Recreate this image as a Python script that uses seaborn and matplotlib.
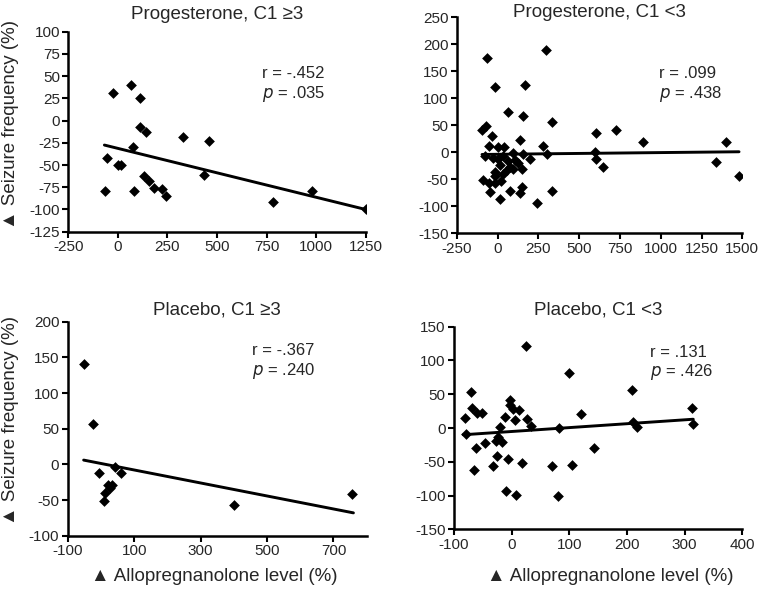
import numpy as np
import pandas as pd
import matplotlib
matplotlib.use("Agg")
import matplotlib.pyplot as plt
import seaborn as sns

# Progesterone, C1 >=3
p1_x = [-65, -26, -53, 0, 14, 66, 75, 80, 112, 112, 140, 130, 157, 180, 224, 243,
        328, 461, 433, 781, 981, 1250]
p1_y = [-79, 31, -42, -50, -50, 40, -30, -79, 26, -7, -13, -62, -68, -76, -77, -85,
        -19, -23, -61, -92, -79, -100]
p1_fit_x = [-68, 1250]
p1_fit_y = [-27.5, -100]

# Progesterone, C1 <3
p2_x = [-64, -15, 295, 171, 67, 154, 332, -93, -70, -36, -54, 5, 38, 138, 279, 301,
        604, 724, 890, 597, 604, 644, 1339, 1400, 1480,
        -89, -54, -44, -15, 15, 22, 77, 140, 148, 240, 334,
        -76, -25, 5, 36, 97, 158, 67, 107, 199, 15, 77, 128, -15, 56, 97, 148, 36, -15]
p2_y = [175, 120, 190, 124, 74, 67, 57, 41, 49, 30, 12, 10, 10, 22, 12, -4,
        35, 42, 19, 0, -13, -27, -18, 19, -44,
        -52, -56, -74, -56, -86, -54, -71, -76, -65, -94, -71,
        -6, -11, -13, -7, -2, -3, -17, -14, -13, -23, -27, -20, -36, -33, -31, -31, -41, -44]
p2_fit_x = [-95, 1480]
p2_fit_y = [-4, 1]

# Placebo, C1 >=3
p3_x = [-52, -23, -5, 43, 60, 20, 32, 27, 13, 10, 400, 757]
p3_y = [140, 56.5, -12, -3, -12, -29, -29.5, -33, -40, -52, -57, -41]
p3_fit_x = [-52, 760]
p3_fit_y = [6, -68]

# Placebo, C1 <3
p4_x = [25, 99, -70, -81, -80, -68, -60, -51, -61, -46, -65, -33, -25, -27, -17, -20,
        -12, -3, -3, 2, 5, 12, 27, 33, -7, 18, -10, 7, 70, 80, 83, 105, 121, 143,
        208, 211, 218, 312, 315, -23]
p4_y = [121, 81, 54, 15, -9, 29, 22, 22, -30, -22, -62, -56, -42, -19, -20, 1,
        17, 42, 34, 28, 12, 26, 14, 3, -46, -52, -94, -99, -56, -101, 0.5, -55, 21, -29,
        56, 9, 2, 29, 6, -13]
p4_fit_x = [-84, 315]
p4_fit_y = [-10, 13]

titles = ["Progesterone, C1 \u22653", "Progesterone, C1 <3", "Placebo, C1 \u22653", "Placebo, C1 <3"]
r_labels = ["r = -.452", "r = .099", "r = -.367", "r = .131"]
p_labels = [".035", ".438", ".240", ".426"]
ylabel = "\u25b2 Seizure frequency (%)"
xlabel = "\u25b2 Allopregnanolone level (%)"

sns.set_style("ticks")
plt.rcParams["font.family"] = ["Liberation Sans", "DejaVu Sans"]
plt.rcParams["axes.unicode_minus"] = False

fig = plt.figure(figsize=(7.64, 5.92), dpi=100)
rects = [[0.0894, 0.6086, 0.3893, 0.3378],
         [0.5978, 0.6059, 0.3738, 0.3649],
         [0.0886, 0.0951, 0.3914, 0.3615],
         [0.5942, 0.1059, 0.3774, 0.3422]]
axes = [fig.add_axes(r) for r in rects]

panels = [(p1_x, p1_y, p1_fit_x, p1_fit_y), (p2_x, p2_y, p2_fit_x, p2_fit_y),
          (p3_x, p3_y, p3_fit_x, p3_fit_y), (p4_x, p4_y, p4_fit_x, p4_fit_y)]
xlims = [(-250, 1250), (-250, 1500), (-100, 800), (-100, 400)]
xticks = [np.arange(-250, 1251, 250), np.arange(-250, 1501, 250), np.arange(-100, 701, 200), np.arange(-100, 401, 100)]
ylims = [(-125, 100), (-150, 250), (-100, 200), (-150, 150)]
yticks = [np.arange(-125, 101, 25), np.arange(-150, 251, 50), np.arange(-100, 201, 50), np.arange(-150, 151, 50)]
title_pads = [9.5, 0.5, 5, 9]
txt_pos = [(0.65, 0.79, 0.687), (0.71, 0.738, 0.645), (0.615, 0.864, 0.77), (0.68, 0.873, 0.778)]

for i, ax in enumerate(axes):
    x, y, fx, fy = panels[i]
    df = pd.DataFrame({"x": x, "y": y})
    sns.scatterplot(data=df, x="x", y="y", ax=ax, marker="D", s=30, color="black",
                    linewidth=0, zorder=3)
    sns.lineplot(x=fx, y=fy, ax=ax, color="black", linewidth=2.1, zorder=2)
    ax.set_xlim(xlims[i])
    ax.set_ylim(ylims[i])
    ax.set_xticks(xticks[i])
    ax.set_yticks(yticks[i])
    ax.tick_params(labelsize=11, length=4, width=1.5, color="black", pad=2)
    for s in ["left", "bottom"]:
        ax.spines[s].set_linewidth(1.8)
        ax.spines[s].set_color("black")
    sns.despine(ax=ax)
    # y fest setzen, sonst schiebt matplotlib den Titel nach oben
    ax.set_title(titles[i], fontsize=13.5, y=1.0, pad=title_pads[i])
    ax.set_xlabel("")
    ax.set_ylabel("")
    tx, ry, py = txt_pos[i]
    ax.text(tx, ry, r_labels[i], transform=ax.transAxes, fontsize=12, va="center")
    ax.text(tx, py, "$\\it{p}$ = " + p_labels[i], transform=ax.transAxes, fontsize=12, va="center")

axes[0].set_ylabel(ylabel, fontsize=13.5)
axes[0].yaxis.set_label_coords(-0.165, 0.534)
axes[2].set_ylabel(ylabel, fontsize=13.5)
axes[2].yaxis.set_label_coords(-0.162, 0.538)
axes[2].set_xlabel(xlabel, fontsize=13.5)
axes[2].xaxis.set_label_coords(0.49, -0.151)
axes[3].set_xlabel(xlabel, fontsize=13.5)
axes[3].xaxis.set_label_coords(0.541, -0.192)

fig.savefig("out.png", dpi=100)
